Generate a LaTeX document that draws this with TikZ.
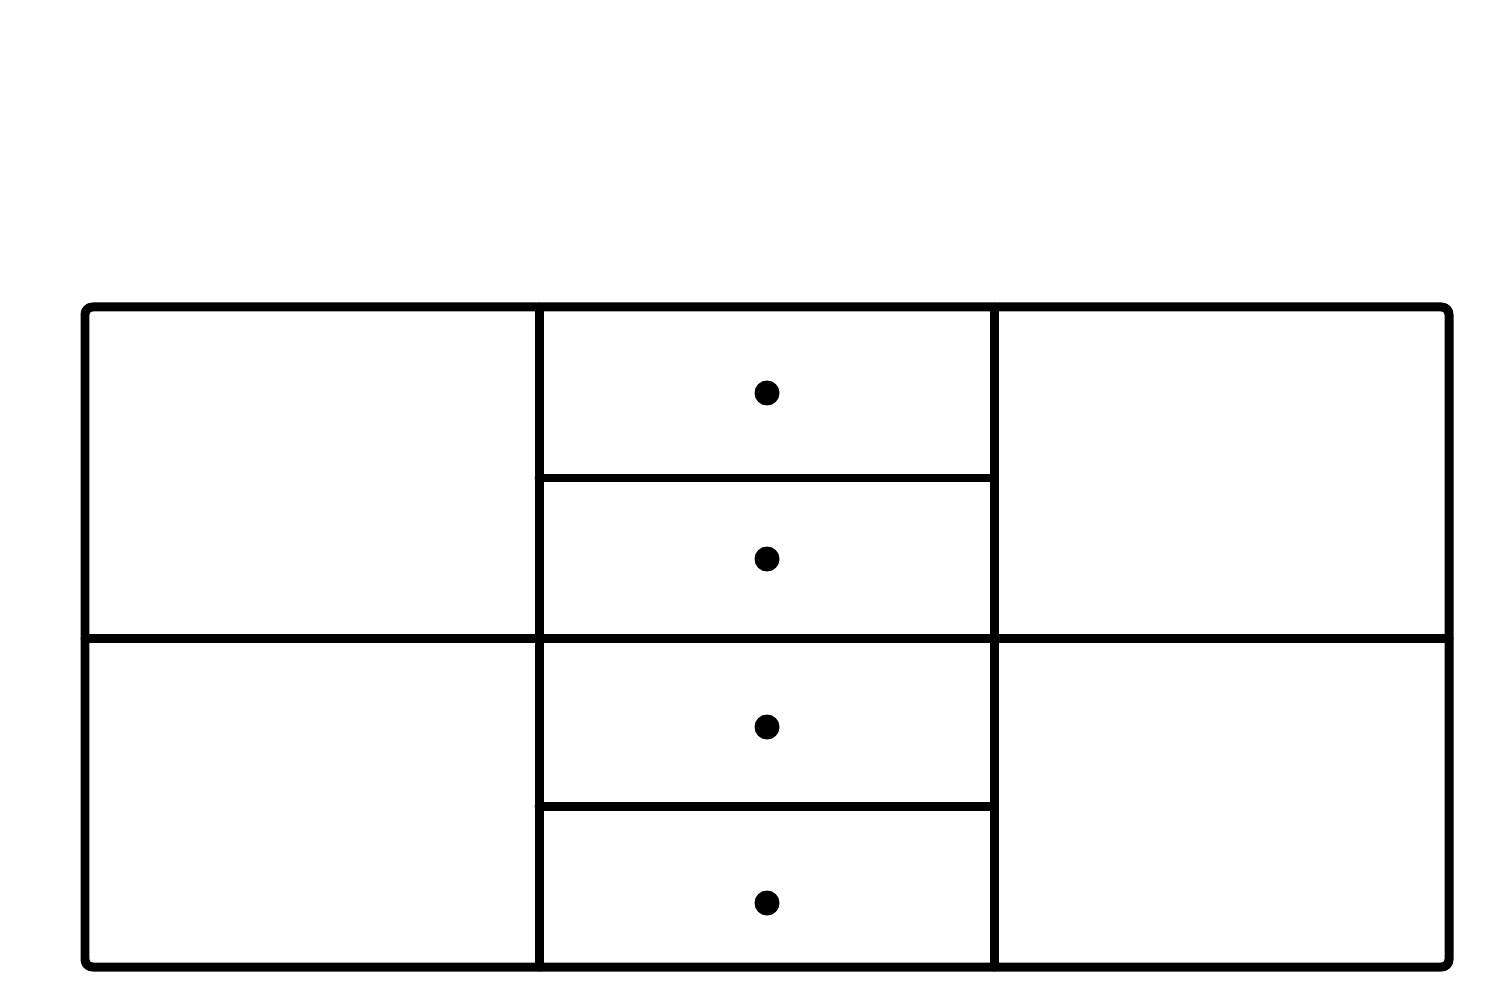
\documentclass[tikz,border=0pt]{standalone}
\begin{document}
\begin{tikzpicture}[x=0.02cm,y=-0.02cm,
  frame/.style={line width=0.18cm,line join=round,line cap=round},
  knob/.style={fill=black}]
\useasboundingbox (0,0) rectangle (1509,1000);
% outer frame
\draw[frame,rounded corners=0.15cm] (85,307) rectangle (1449,967);
% vertical dividers
\draw[frame] (539,307) -- (539,967);
\draw[frame] (994,307) -- (994,967);
% horizontal middle divider
\draw[frame] (85,638) -- (1449,638);
% drawer dividers
\draw[frame] (539,478) -- (994,478);
\draw[frame] (539,806) -- (994,806);
% knobs
\fill[knob] (767,393) circle (12.5);
\fill[knob] (767,559) circle (12.5);
\fill[knob] (767,727) circle (12.5);
\fill[knob] (767,903) circle (12.5);
\end{tikzpicture}
\end{document}
